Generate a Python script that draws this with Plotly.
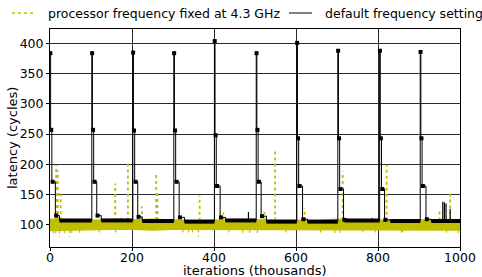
import numpy as np
import plotly.graph_objects as go

# ---------------- data (x in thousands of iterations, y in cycles) ----------------
# default frequency settings: one burst per ~100k iterations
period_start = [0, 102, 202, 302, 401, 503, 602, 702, 804, 903]
peak_level   = [386, 386, 387, 386, 406, 386, 403, 390, 390, 388]
level2       = [257, 257, 256, 256, 248, 257, 243, 243, 243, 243]
level3       = [171, 171, 171, 171, 164, 171, 164, 159, 159, 164]
level3_end   = [13, 12, 12, 13, 14, 12, 14, 14, 12, 14]
level4       = [115, 115, 113, 112, 112, 114, 109, 108, 108, 109]
level4_end   = [23, 23, 23, 26, 27, 25, 26, 16, 26, 27]
baseline     = [107, 107, 106, 105, 107, 105, 105, 107, 106, 106]
peak_end     = 1.5
level2_end   = 4.5
black_bump_x = [484, 958, 962, 966, 976]
black_bump_y = [121, 138, 137, 135, 126]

# processor frequency fixed at 4.3 GHz: noisy band plus occasional spikes
band_x      = [0, 50, 100, 150, 200, 250, 300, 350, 400, 450, 500,
               550, 600, 650, 700, 750, 800, 850, 900, 950, 1000]
band_top    = [110, 109, 109, 108, 109, 110, 109, 108, 109, 108, 109,
               109, 109, 108, 110, 109, 109, 108, 109, 109, 109]
band_bottom = [89, 90, 91, 91, 91, 90, 91, 91, 91, 91, 90,
               91, 91, 91, 90, 91, 91, 91, 90, 91, 90]
spike_x = [15, 19, 26, 159, 174, 190, 224, 259, 262, 365, 423, 523,
           549, 621, 714, 786, 821, 950, 976]
spike_y = [199, 190, 156, 168, 116, 201, 130, 185, 152, 148, 120, 121,
           221, 127, 188, 112, 199, 124, 155]
dip_x = [8, 14, 23, 35, 48, 53, 72, 120, 160, 324, 338, 348, 362, 436,
         470, 487, 506, 576, 660, 695, 707, 763, 793, 857, 860, 967, 995]
dip_y = [82, 80, 79, 83, 80, 84, 86, 87, 86, 85, 86, 84, 80, 86,
         85, 86, 83, 84, 87, 83, 82, 84, 84, 84, 85, 85, 85]

x_ticks = [0, 200, 400, 600, 800, 1000]
y_ticks = [100, 150, 200, 250, 300, 350, 400]
series_names = ["processor frequency fixed at 4.3 GHz", "default frequency settings"]

YEL = "#bfbf00"

# ---------------- build the black step series ----------------
bx, by = [], []
mx, my = [], []
base_x, base_y = [], []
n = len(period_start)
for i in range(n):
    s = period_start[i]
    nxt = period_start[i + 1] if i + 1 < n else 1000
    pts = [(s, peak_level[i]), (s + peak_end, peak_level[i]),
           (s + peak_end, level2[i]), (s + level2_end, level2[i]),
           (s + level2_end, level3[i]), (s + level3_end[i], level3[i]),
           (s + level3_end[i], level4[i]), (s + level4_end[i], level4[i]),
           (s + level4_end[i], baseline[i]), (nxt, baseline[i])]
    for px, py in pts:
        bx.append(px)
        by.append(py)
    mx += [s + peak_end / 2, s + (peak_end + level2_end) / 2,
           s + level2_end + 2, s + level3_end[i] + 2]
    my += [peak_level[i] - 2, level2[i], level3[i], level4[i]]
    base_x += [s + level4_end[i], nxt, None]
    base_y += [baseline[i], baseline[i], None]

bump_sx, bump_sy = [], []
for x, y in zip(black_bump_x, black_bump_y):
    idx = int(np.searchsorted(period_start, x, side="right") - 1)
    bump_sx += [x, x, None]
    bump_sy += [baseline[idx], y, None]

ysx, ysy = [], []
for x, y in zip(spike_x, spike_y):
    ysx += [x, x, None]
    ysy += [float(np.interp(x, band_x, band_top)) - 2, y, None]
dsx, dsy = [], []
for x, y in zip(dip_x, dip_y):
    dsx += [x, x, None]
    dsy += [float(np.interp(x, band_x, band_bottom)) + 1, y, None]

fig = go.Figure()
fig.add_trace(go.Scatter(x=band_x, y=band_bottom, mode="lines",
                         line=dict(color=YEL, width=0), showlegend=False,
                         hoverinfo="skip"))
fig.add_trace(go.Scatter(x=band_x, y=band_top, mode="lines", fill="tonexty",
                         fillcolor=YEL, line=dict(color=YEL, width=0),
                         showlegend=False, hoverinfo="skip"))
fig.add_trace(go.Scatter(x=dsx, y=dsy, mode="lines",
                         line=dict(color=YEL, width=1.2, dash="dot"),
                         showlegend=False, hoverinfo="skip"))
fig.add_trace(go.Scatter(x=ysx, y=ysy, mode="lines",
                         line=dict(color=YEL, width=1.8, dash="dot"),
                         name=series_names[0], showlegend=False))
fig.add_trace(go.Scatter(x=base_x, y=base_y, mode="lines",
                         line=dict(color="black", width=4),
                         showlegend=False, hoverinfo="skip"))
fig.add_trace(go.Scatter(x=bump_sx, y=bump_sy, mode="lines",
                         line=dict(color="black", width=1.2),
                         showlegend=False, hoverinfo="skip"))
fig.add_trace(go.Scatter(x=mx, y=my, mode="markers",
                         marker=dict(symbol="square", size=4, color="black"),
                         showlegend=False, hoverinfo="skip"))
fig.add_trace(go.Scatter(x=bx, y=by, mode="lines",
                         line=dict(color="black", width=1),
                         name=series_names[1], showlegend=False))

axis_common = dict(showline=True, linecolor="black", linewidth=1, mirror=True,
                   ticks="outside", ticklen=3, tickcolor="black",
                   showgrid=True, gridcolor="#2a2a2a", gridwidth=1,
                   zeroline=False, automargin=False,
                   tickfont=dict(size=12.5))
fig.update_xaxes(range=[0, 1000], tickvals=x_ticks, **axis_common)
try:
    fig.update_xaxes(ticklabelstandoff=-4)
except Exception:
    pass
fig.update_yaxes(range=[63, 424], tickvals=y_ticks, **axis_common)

# plot area in pixels: x 50..460, y 29..247
def px_x(p):
    return (p - 50) / 410.0

def px_y(p):
    return (247 - p) / 218.0

# axis titles
fig.add_annotation(text="iterations (thousands)", xref="paper", yref="paper",
                   x=0.5, y=px_y(270), xanchor="center", yanchor="middle",
                   showarrow=False, font=dict(size=13))
fig.add_annotation(text="latency (cycles)", xref="paper", yref="paper",
                   x=px_x(12), y=0.5, xanchor="center", yanchor="middle",
                   textangle=-90, showarrow=False, font=dict(size=13))

# legend row above the plot
legend_y = px_y(13)
fig.add_shape(type="line", xref="paper", yref="paper",
              x0=px_x(12), x1=px_x(35), y0=legend_y, y1=legend_y,
              line=dict(color=YEL, width=1.5, dash="dot"))
fig.add_annotation(text=series_names[0], xref="paper", yref="paper",
                   x=px_x(46), y=legend_y, xanchor="left", yanchor="middle",
                   showarrow=False, font=dict(size=12.5))
fig.add_shape(type="line", xref="paper", yref="paper",
              x0=px_x(289), x1=px_x(312), y0=legend_y, y1=legend_y,
              line=dict(color="black", width=1))
fig.add_annotation(text=series_names[1], xref="paper", yref="paper",
                   x=px_x(323), y=legend_y, xanchor="left", yanchor="middle",
                   showarrow=False, font=dict(size=12.5))

fig.update_layout(
    width=482, height=277,
    margin=dict(l=50, r=22, t=29, b=30, autoexpand=False),
    plot_bgcolor="white", paper_bgcolor="white",
    font=dict(family="DejaVu Sans", size=12, color="black"),
    showlegend=False,
)

fig.write_html("out.html",
               config={"displayModeBar": False, "staticPlot": True},
               post_script="document.body.style.margin='0';"
                           "document.body.style.overflow='hidden';")
